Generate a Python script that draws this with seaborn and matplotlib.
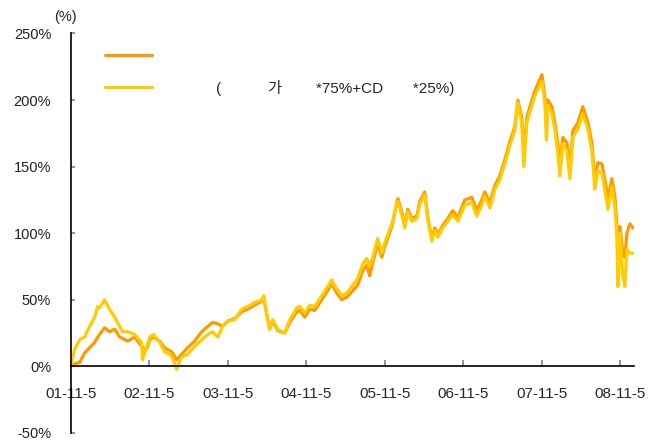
import numpy as np
import pandas as pd
import matplotlib
matplotlib.use("Agg")
import matplotlib.pyplot as plt
import seaborn as sns

# values (cumulative return, %)
dates = [
    "2001-11-05", "2001-11-24", "2001-12-17", "2002-01-09", "2002-02-01", "2002-02-25",
    "2002-03-11", "2002-03-20", "2002-04-12", "2002-05-05", "2002-05-29", "2002-06-21",
    "2002-07-05", "2002-07-28", "2002-08-30", "2002-10-01", "2002-10-06", "2002-10-25",
    "2002-11-08", "2002-11-26", "2002-12-24", "2003-01-16", "2003-02-18", "2003-03-13",
    "2003-04-05", "2003-05-03", "2003-06-05", "2003-07-08", "2003-08-04", "2003-08-28",
    "2003-09-20", "2003-10-13", "2003-11-05", "2003-12-08", "2004-01-10", "2004-02-07",
    "2004-03-10", "2004-04-12", "2004-04-21", "2004-05-05", "2004-05-19", "2004-06-02",
    "2004-06-25", "2004-07-28", "2004-08-20", "2004-09-22", "2004-10-06", "2004-10-29",
    "2004-11-21", "2004-12-14", "2005-01-16", "2005-02-13", "2005-03-03", "2005-03-27",
    "2005-04-19", "2005-05-12", "2005-06-05", "2005-07-02", "2005-07-26", "2005-08-13",
    "2005-08-27", "2005-09-10", "2005-10-03", "2005-10-22", "2005-11-05", "2005-12-08",
    "2005-12-31", "2006-01-05", "2006-01-23", "2006-02-06", "2006-02-20", "2006-03-11",
    "2006-04-03", "2006-04-17", "2006-05-10", "2006-05-24", "2006-06-12", "2006-06-26",
    "2006-07-10", "2006-08-02", "2006-08-25", "2006-09-17", "2006-10-11", "2006-11-12",
    "2006-12-15", "2007-01-07", "2007-01-30", "2007-02-13", "2007-03-09", "2007-04-01",
    "2007-04-24", "2007-05-17", "2007-06-10", "2007-07-03", "2007-07-17", "2007-08-04",
    "2007-08-14", "2007-08-28", "2007-09-11", "2007-10-04", "2007-10-18", "2007-11-06",
    "2007-11-20", "2007-11-27", "2007-12-03", "2007-12-22", "2008-01-05", "2008-01-19",
    "2008-01-28", "2008-02-11", "2008-03-01", "2008-03-15", "2008-03-29", "2008-04-21",
    "2008-05-14", "2008-05-24", "2008-06-07", "2008-06-25", "2008-07-09", "2008-07-23",
    "2008-08-11", "2008-08-25", "2008-09-08", "2008-09-26", "2008-10-10", "2008-10-20",
    "2008-10-24", "2008-11-03", "2008-11-16", "2008-11-26", "2008-12-05", "2008-12-19",
    "2009-01-02",
]
fund = [
    0, 2, 3, 10, 14, 18, 22, 24, 29, 26, 28, 22,
    21, 19, 22, 15, 14, 13, 20, 22, 19, 14, 11, 5,
    9, 14, 19, 26, 30, 33, 32, 30, 34, 36, 41, 43,
    46, 49, 52, 39, 28, 34, 27, 25, 33, 41, 42, 37,
    43, 42, 50, 57, 62, 55, 50, 52, 56, 61, 72, 76,
    68, 78, 92, 82, 90, 105, 123, 126, 116, 106, 118, 111,
    113, 124, 131, 112, 96, 104, 99, 106, 111, 117, 112, 125,
    127, 117, 125, 131, 123, 136, 143, 155, 169, 180, 200, 187,
    160, 187, 195, 207, 212, 219, 202, 178, 200, 195, 183, 167,
    150, 172, 168, 150, 177, 183, 195, 190, 183, 168, 140, 153,
    152, 140, 126, 141, 128, 105, 80, 105, 85, 82, 100, 107,
    104,
]
bench = [
    0, 13, 20, 22, 30, 37, 45, 44, 50, 43, 37, 30,
    26, 26, 24, 18, 5, 15, 22, 24, 18, 11, 8, -2,
    7, 9, 15, 20, 24, 26, 22, 30, 34, 35, 43, 45,
    48, 50, 53, 40, 28, 35, 28, 25, 35, 44, 45, 40,
    46, 45, 53, 60, 65, 58, 53, 55, 60, 66, 77, 81,
    75, 82, 96, 85, 93, 107, 122, 124, 114, 104, 116, 109,
    111, 122, 129, 110, 94, 102, 97, 104, 109, 114, 109, 121,
    123, 113, 121, 128, 119, 133, 140, 152, 166, 177, 198, 183,
    150, 183, 191, 203, 208, 214, 198, 170, 196, 190, 178, 160,
    143, 167, 162, 141, 172, 178, 190, 185, 178, 162, 133, 147,
    145, 132, 118, 135, 120, 98, 60, 100, 68, 60, 88, 85,
    85,
]
yticks = [-50, 0, 50, 100, 150, 200, 250]
xtick_dates = ["2001-11-05", "2002-11-05", "2003-11-05", "2004-11-05",
               "2005-11-05", "2006-11-05", "2007-11-05", "2008-11-05"]
xtick_labels = ["01-11-5", "02-11-5", "03-11-5", "04-11-5",
                "05-11-5", "06-11-5", "07-11-5", "08-11-5"]
fund_label = " "
bench_label = "            (           가        *75%+CD       *25%)"

df = pd.DataFrame({"date": pd.to_datetime(dates), "fund": fund, "bench": bench})

sns.set_theme(style="white")
plt.rcParams["font.family"] = ["Liberation Sans", "Noto Sans CJK KR", "DejaVu Sans"]

fig = plt.figure(figsize=(6.54, 4.43), dpi=100)
ax = fig.add_axes([0.108, 0.0226, 0.8614, 0.9018])

sns.lineplot(data=df, x="date", y="fund", ax=ax, color="#FF9900", lw=2.3, label=fund_label)
sns.lineplot(data=df, x="date", y="bench", ax=ax, color="#FFCC00", lw=2.3, label=bench_label)

ax.set_ylim(-50, 250)
ax.set_xlim(pd.Timestamp("2001-11-05"), pd.Timestamp("2009-01-07"))
ax.set_yticks(yticks)
ax.set_yticklabels([f"{v}%" for v in yticks], fontsize=10.5, color="#222222")
ax.set_xticks(pd.to_datetime(xtick_dates))
ax.set_xticklabels(xtick_labels, fontsize=12, color="#222222",
                   family=["Liberation Sans Narrow", "Liberation Sans"])
ax.set_xlabel("")
ax.set_ylabel("")

for s in ["top", "right"]:
    ax.spines[s].set_visible(False)
ax.spines["bottom"].set_position(("data", 0))
ax.spines["left"].set_color("black")
ax.spines["bottom"].set_color("black")
ax.spines["left"].set_linewidth(1.2)
ax.spines["bottom"].set_linewidth(1.2)
ax.tick_params(axis="y", direction="in", length=3, color="#888888", pad=14, left=True)
ax.tick_params(axis="x", direction="in", length=4, color="#888888", pad=15, bottom=True)

ax.text(-0.009, 1.041, "(%)", transform=ax.transAxes, ha="center", va="center",
        fontsize=10.5, color="#222222")

ax.legend(loc="upper left", bbox_to_anchor=(0.061, 0.96), frameon=False,
          borderpad=0, borderaxespad=0, handlelength=3.1, handletextpad=0.8,
          labelspacing=1.07, fontsize=11)

fig.savefig("out.png", dpi=100)
